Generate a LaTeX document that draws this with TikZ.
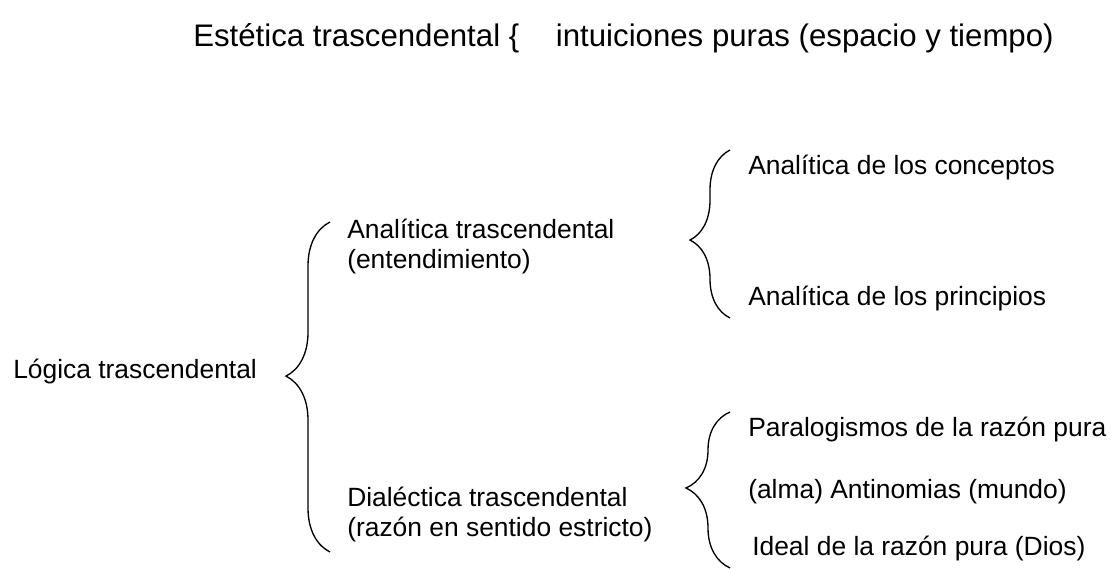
\documentclass[tikz,border=0pt]{standalone}
\usepackage{fontspec}
\setmainfont{Liberation Sans}
\usetikzlibrary{decorations.pathreplacing}

\tikzset{
  txt/.style={inner sep=0pt,anchor=base west,font=\fontsize{19.8}{22.5}\selectfont},
  bigtxt/.style={inner sep=0pt,anchor=base west,font=\fontsize{23.4}{27}\selectfont},
  twoline/.style={inner sep=0pt,anchor=west,align=left,font=\fontsize{19.8}{22.5}\selectfont},
  curly/.style={decorate,decoration={brace,amplitude=#1},line width=1pt}
}

\begin{document}
\begin{tikzpicture}[x=0.75pt,y=-0.75pt]
  \useasboundingbox (0,0) rectangle (1116,568);

  \node[bigtxt] (estetica) at (193,46) {Estética trascendental \{\hspace{21pt} intuiciones puras (espacio y tiempo)};

  \node[txt] (logica) at (13,378) {Lógica trascendental};

  \node[twoline] (analitica) at (347,247) {Analítica trascendental\\(entendimiento)};
  \node[twoline] (dialectica) at (347,515) {Dialéctica trascendental\\(razón en sentido estricto)};

  \node[txt] (conceptos) at (748,174) {Analítica de los conceptos};
  \node[txt] (principios) at (748,305) {Analítica de los principios};

  \node[txt] (paralog) at (748,436) {Paralogismos de la razón pura};
  \node[txt] (antinom) at (748,498) {(alma) Antinomias (mundo)};
  \node[txt] (ideal) at (752,555) {Ideal de la razón pura (Dios)};

  % brace ends
  \coordinate (b1s) at (330,552);
  \coordinate (b1e) at (330,222);
  \coordinate (b2s) at (730,318);
  \coordinate (b2e) at (730,150);
  \coordinate (b3s) at (730,568);
  \coordinate (b3e) at (730,412);

  \draw[curly=33,decoration={aspect=0.533}] (b1s) -- (b1e);
  \draw[curly=30,decoration={aspect=0.464}] (b2s) -- (b2e);
  \draw[curly=33,decoration={aspect=0.513}] (b3s) -- (b3e);
\end{tikzpicture}
\end{document}
